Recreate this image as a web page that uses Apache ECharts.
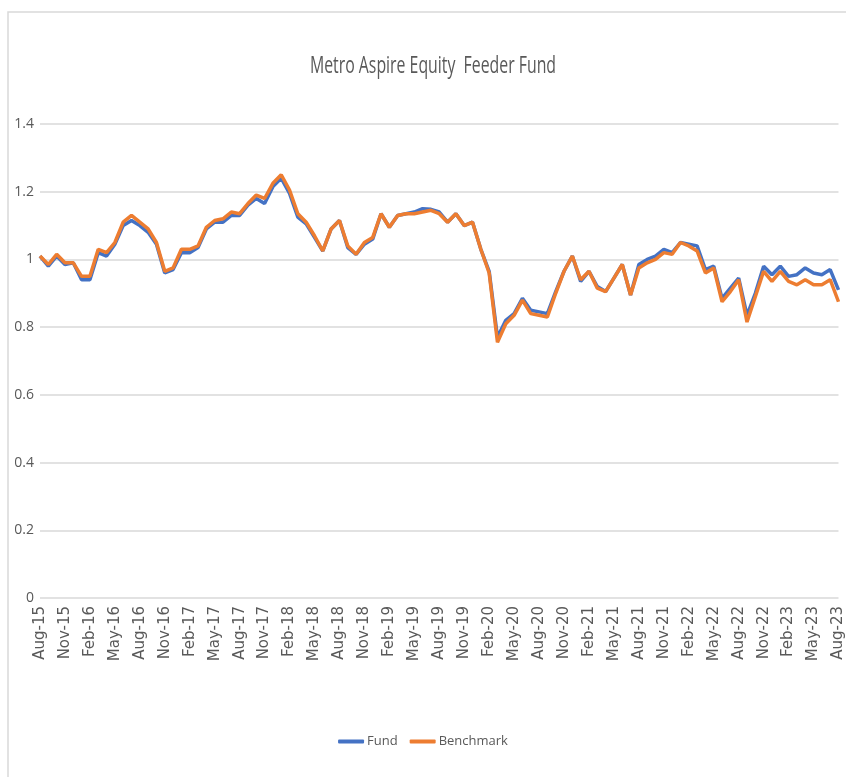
<!DOCTYPE html>
<html lang="en">
<head>
    <meta charset="UTF-8">
    <title>Metro Aspire Equity Feeder Fund</title>
    <script src="https://cdn.jsdelivr.net/npm/echarts@6/dist/echarts.min.js"></script>
    <style>
        html, body { margin: 0; padding: 0; background: #fff; }
    </style>
</head>
<body>
<div style="width:846px;height:777px" id="myChart"></div>
<script type="text/javascript">
    // month labels, Aug-15 .. Aug-23
    var months = [
        'Aug-15','Sep-15','Oct-15','Nov-15','Dec-15','Jan-16','Feb-16','Mar-16','Apr-16','May-16','Jun-16','Jul-16',
        'Aug-16','Sep-16','Oct-16','Nov-16','Dec-16','Jan-17','Feb-17','Mar-17','Apr-17','May-17','Jun-17','Jul-17',
        'Aug-17','Sep-17','Oct-17','Nov-17','Dec-17','Jan-18','Feb-18','Mar-18','Apr-18','May-18','Jun-18','Jul-18',
        'Aug-18','Sep-18','Oct-18','Nov-18','Dec-18','Jan-19','Feb-19','Mar-19','Apr-19','May-19','Jun-19','Jul-19',
        'Aug-19','Sep-19','Oct-19','Nov-19','Dec-19','Jan-20','Feb-20','Mar-20','Apr-20','May-20','Jun-20','Jul-20',
        'Aug-20','Sep-20','Oct-20','Nov-20','Dec-20','Jan-21','Feb-21','Mar-21','Apr-21','May-21','Jun-21','Jul-21',
        'Aug-21','Sep-21','Oct-21','Nov-21','Dec-21','Jan-22','Feb-22','Mar-22','Apr-22','May-22','Jun-22','Jul-22',
        'Aug-22','Sep-22','Oct-22','Nov-22','Dec-22','Jan-23','Feb-23','Mar-23','Apr-23','May-23','Jun-23','Jul-23',
        'Aug-23'
    ];

    var fund = [
        1.01, 0.98, 1.01, 0.985, 0.99, 0.94, 0.94, 1.02, 1.01, 1.045, 1.10, 1.115,
        1.10, 1.08, 1.045, 0.96, 0.97, 1.02, 1.02, 1.035, 1.09, 1.11, 1.11, 1.13,
        1.13, 1.16, 1.18, 1.165, 1.215, 1.24, 1.195, 1.125, 1.105, 1.065, 1.025, 1.09,
        1.115, 1.035, 1.015, 1.045, 1.06, 1.135, 1.095, 1.13, 1.135, 1.14, 1.15, 1.148,
        1.14, 1.11, 1.135, 1.10, 1.11, 1.03, 0.965, 0.77, 0.82, 0.84, 0.885, 0.85,
        0.845, 0.84, 0.905, 0.965, 1.01, 0.935, 0.965, 0.92, 0.905, 0.945, 0.985, 0.895,
        0.985, 1.0, 1.01, 1.03, 1.02, 1.05, 1.045, 1.04, 0.97, 0.98, 0.885, 0.915,
        0.945, 0.835, 0.9, 0.98, 0.955, 0.98, 0.95, 0.955, 0.975, 0.96, 0.955, 0.97,
        0.91
    ];

    var benchmark = [
        1.01, 0.985, 1.015, 0.99, 0.99, 0.95, 0.95, 1.03, 1.02, 1.05, 1.11, 1.13,
        1.11, 1.09, 1.05, 0.965, 0.975, 1.03, 1.03, 1.04, 1.095, 1.115, 1.12, 1.14,
        1.135, 1.165, 1.19, 1.18, 1.225, 1.25, 1.205, 1.135, 1.11, 1.07, 1.025, 1.09,
        1.115, 1.04, 1.015, 1.05, 1.065, 1.135, 1.095, 1.13, 1.135, 1.135, 1.14, 1.145,
        1.135, 1.11, 1.135, 1.10, 1.11, 1.03, 0.96, 0.755, 0.81, 0.835, 0.88, 0.84,
        0.835, 0.83, 0.9, 0.965, 1.01, 0.94, 0.965, 0.915, 0.905, 0.945, 0.985, 0.895,
        0.975, 0.99, 1.0, 1.02, 1.015, 1.05, 1.04, 1.025, 0.96, 0.975, 0.875, 0.905,
        0.94, 0.815, 0.89, 0.965, 0.935, 0.965, 0.935, 0.925, 0.94, 0.925, 0.925, 0.94,
        0.875
    ];

    var yTicks = { min: 0, max: 1.4, step: 0.2 };
    var chartTitle = 'Metro Aspire Equity  Feeder Fund';

    var myChart = echarts.init(document.getElementById('myChart'));
    myChart.setOption({
        animation: false,
        backgroundColor: '#fff',
        graphic: [
            {
                // outer chart frame
                type: 'rect',
                shape: { x: 8, y: 12, width: 860, height: 800 },
                style: { fill: 'none', stroke: '#d9d9d9', lineWidth: 1.5 },
                z: -1
            },
            {
                // title, squeezed sideways like the source picture
                type: 'text',
                x: 433,
                y: 66,
                scaleX: 0.66,
                style: {
                    text: chartTitle,
                    fill: '#595959',
                    font: '24px "Open Sans", sans-serif',
                    textAlign: 'center',
                    textVerticalAlign: 'middle'
                }
            }
        ],
        legend: {
            bottom: 24,
            left: 'center',
            itemWidth: 26,
            itemHeight: 4,
            itemGap: 12,
            icon: 'roundRect',
            textStyle: {
                fontFamily: '"Open Sans", sans-serif',
                fontSize: 13,
                color: '#595959',
                padding: [0, 0, 0, -2]
            },
            data: ['Fund', 'Benchmark']
        },
        grid: {
            left: 40,
            right: 3,
            top: 124,
            bottom: 179,
            containLabel: false
        },
        xAxis: {
            type: 'category',
            boundaryGap: false,
            data: months,
            axisLine: { show: false },
            axisTick: { show: false },
            axisLabel: {
                interval: 2,
                rotate: 90,
                margin: 8,
                fontFamily: '"DejaVu Sans", sans-serif',
                fontSize: 15,
                color: '#595959'
            }
        },
        yAxis: {
            type: 'value',
            min: yTicks.min,
            max: yTicks.max,
            interval: yTicks.step,
            axisLine: { show: false },
            axisTick: { show: false },
            axisLabel: {
                margin: 6,
                fontFamily: '"Open Sans", sans-serif',
                fontSize: 14,
                color: '#595959'
            },
            splitLine: { lineStyle: { color: '#d9d9d9', width: 1.5 } }
        },
        series: [
            {
                name: 'Fund',
                type: 'line',
                data: fund,
                symbol: 'none',
                lineStyle: { color: '#4472C4', width: 3.5 },
                itemStyle: { color: '#4472C4' },
                z: 2
            },
            {
                name: 'Benchmark',
                type: 'line',
                data: benchmark,
                symbol: 'none',
                lineStyle: { color: '#ED7D31', width: 3.5 },
                itemStyle: { color: '#ED7D31' },
                z: 3
            }
        ]
    });
</script>
</body>
</html>
